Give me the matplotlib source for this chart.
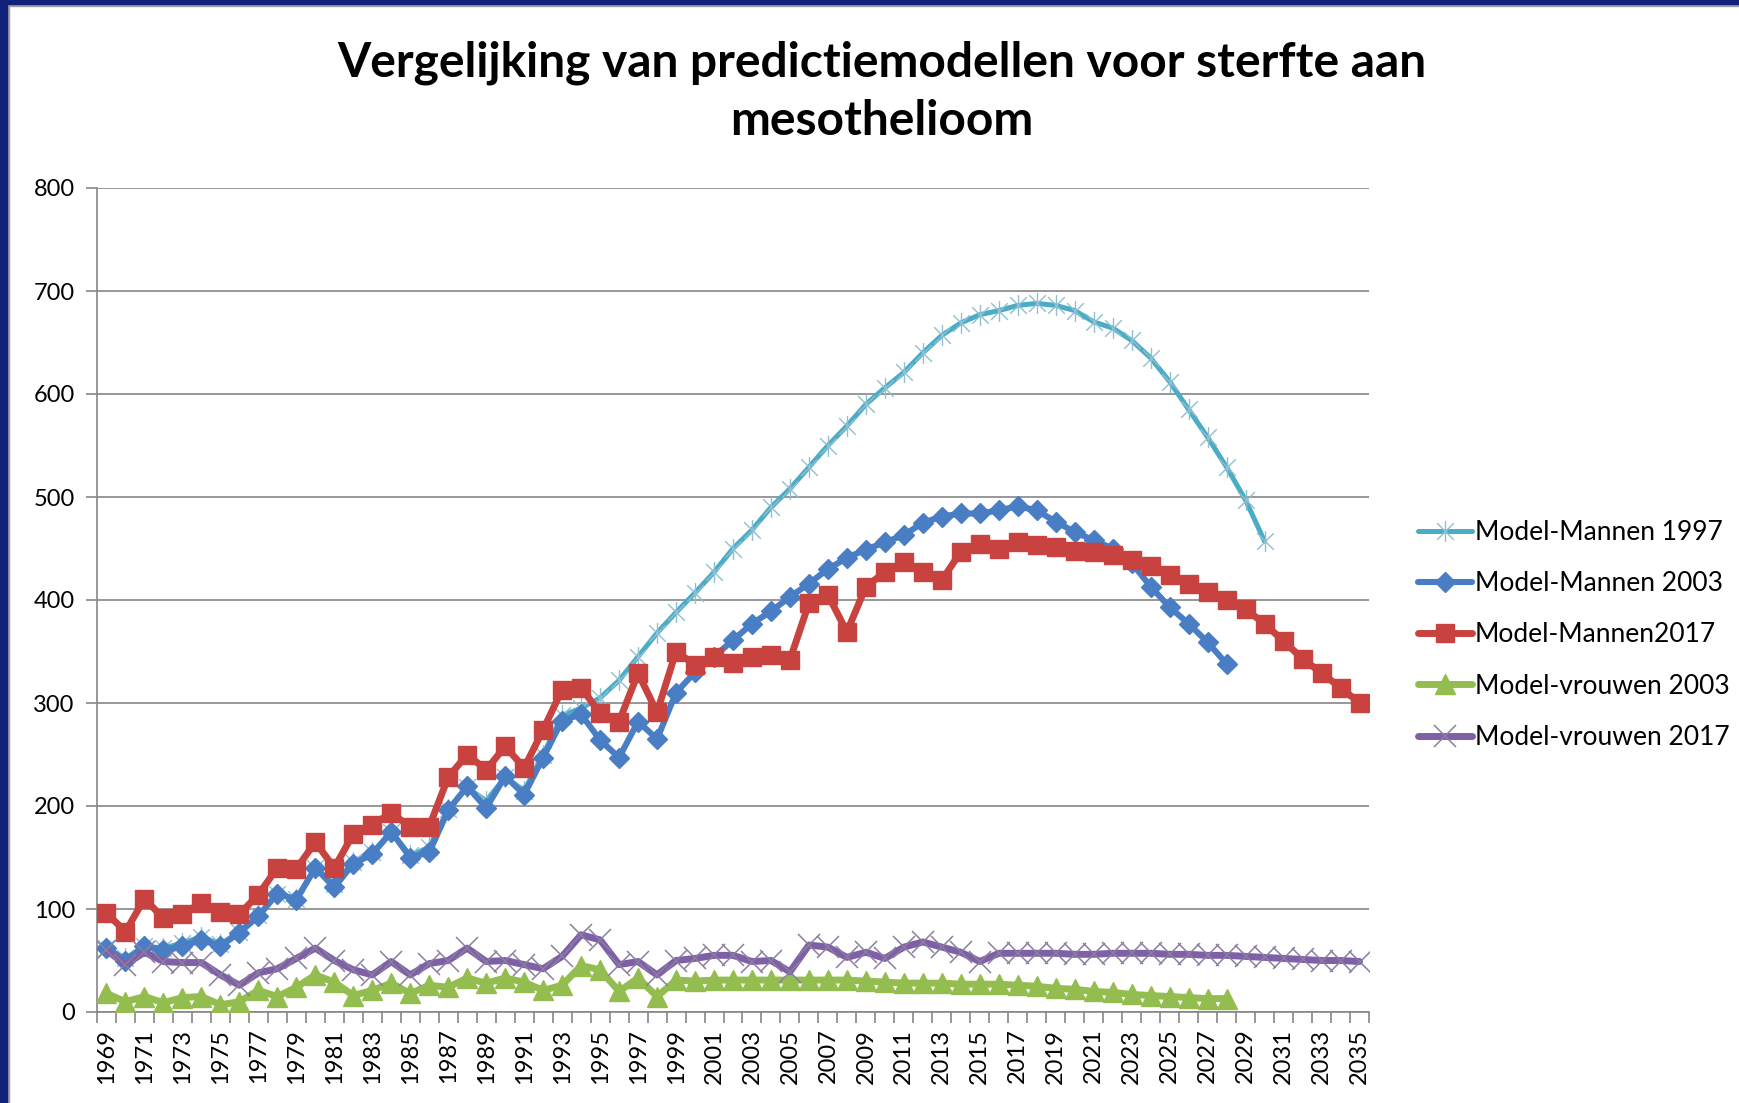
import matplotlib
matplotlib.use("Agg")
import matplotlib.pyplot as plt
from matplotlib.path import Path
from matplotlib.patches import Rectangle
import numpy as np

plt.rcParams['font.family'] = ['Lato', 'DejaVu Sans']

title = "Vergelijking van predictiemodellen voor sterfte aan\nmesothelioom"
years = list(range(1969, 2036))

mannen_1997 = [62, 52, 64, 62, 67, 73, 66, 78, 94, 115, 110, 140, 124, 146, 155, 175, 152, 160,
               197, 218, 205, 228, 215, 250, 288, 295, 305, 322, 345, 368, 388, 407, 427, 450,
               468, 490, 508, 529, 550, 569, 590, 606, 621, 640, 657, 669, 677, 681, 686, 688,
               686, 681, 670, 664, 652, 635, 612, 585, 558, 529, 497, 457]
mannen_2003 = [62, 50, 64, 60, 64, 70, 64, 77, 93, 115, 109, 140, 121, 144, 153, 175, 150, 155,
               196, 219, 198, 229, 211, 247, 283, 289, 264, 247, 282, 265, 310, 330, 345, 361,
               377, 389, 403, 416, 430, 441, 449, 456, 463, 475, 481, 484, 484, 487, 491, 487,
               476, 466, 458, 450, 436, 413, 393, 377, 359, 338]
mannen_2017 = [96, 78, 110, 91, 95, 106, 97, 95, 114, 140, 139, 165, 140, 173, 182, 193, 180, 180,
               228, 250, 235, 258, 237, 274, 313, 315, 290, 282, 329, 291, 350, 337, 345, 339,
               345, 347, 342, 397, 405, 369, 413, 427, 437, 427, 419, 447, 454, 450, 456, 453,
               451, 448, 447, 444, 439, 433, 424, 416, 408, 400, 391, 377, 360, 343, 329, 315, 300]
vrouwen_2003 = [18, 10, 15, 9, 14, 15, 7, 10, 21, 15, 24, 36, 29, 16, 21, 28, 18, 26, 24, 33,
                28, 33, 29, 21, 26, 45, 41, 20, 33, 15, 31, 30, 31, 31, 31, 31, 31, 31, 31, 31,
                30, 29, 28, 28, 28, 27, 27, 27, 26, 25, 23, 22, 20, 19, 17, 16, 15, 14, 13, 13]
vrouwen_2017 = [60, 46, 58, 49, 48, 48, 36, 26, 38, 42, 52, 62, 50, 41, 36, 49, 36, 47, 50, 62,
                49, 50, 46, 42, 54, 75, 70, 46, 49, 36, 50, 52, 55, 55, 49, 50, 39, 65, 63, 53,
                58, 52, 63, 68, 63, 58, 49, 57, 57, 57, 57, 56, 56, 57, 57, 57, 56, 56, 55, 55,
                54, 53, 52, 51, 50, 50, 49]

labels = ["Model-Mannen 1997", "Model-Mannen 2003", "Model-Mannen2017",
          "Model-vrouwen 2003", "Model-vrouwen 2017"]

W, H = 1739, 1103
fig = plt.figure(figsize=(W / 100, H / 100), dpi=100)
fig.patch.set_facecolor('white')

ax = fig.add_axes([97 / W, 1 - 1012 / H, (1369 - 97) / W, (1012 - 188) / H])

star = Path([(-1, -1), (1, 1), (-1, 1), (1, -1), (0, -1.25), (0, 1.25)],
            [Path.MOVETO, Path.LINETO, Path.MOVETO, Path.LINETO, Path.MOVETO, Path.LINETO])

x = np.arange(len(years))

def xs(vals):
    return x[:len(vals)]

common = dict(solid_joinstyle='round', solid_capstyle='round')
ax.plot(xs(mannen_1997), mannen_1997, color='#4BACC6', lw=3.6, marker=star, ms=15,
        mec='#8FBFD0', mew=1.0, mfc='none', label=labels[0], zorder=3, **common)
ax.plot(xs(mannen_2003), mannen_2003, color='#4A7EC4', lw=4.4, marker='D', ms=10.5,
        mec='#4A7EC4', mfc='#4A7EC4', label=labels[1], zorder=4, **common)
ax.plot(xs(mannen_2017), mannen_2017, color='#C8433F', lw=5, marker='s', ms=13,
        mec='#C8433F', mfc='#C8433F', label=labels[2], zorder=5, **common)
ax.plot(xs(vrouwen_2003), vrouwen_2003, color='#94BD4F', lw=5, marker='^', ms=14,
        mec='#94BD4F', mfc='#94BD4F', label=labels[3], zorder=6, **common)
ax.plot(xs(vrouwen_2017), vrouwen_2017, color='#7F5FA6', lw=5, marker='x', ms=16,
        mec='#8A7F9E', mew=1.1, label=labels[4], zorder=7, **common)

ax.set_xlim(-0.5, len(years) - 0.5)
ax.set_ylim(0, 800)
ax.set_yticks(range(0, 801, 100))
ax.yaxis.grid(True, color='#868686', lw=1.2)
ax.set_axisbelow(True)

ax.set_xticks(np.arange(-0.5, len(years), 1.0))
ax.set_xticklabels([])
ax.tick_params(axis='x', which='major', length=8, width=1.2, color='#868686', direction='out')
ax.set_xticks(x[::2], minor=True)
ax.set_xticklabels([str(y) for y in years[::2]], minor=True, rotation=90, fontsize=17)
ax.tick_params(axis='x', which='minor', length=0, pad=12)
ax.tick_params(axis='y', length=8, width=1.2, color='#868686', labelsize=17, pad=8)

for s in ['top', 'right']:
    ax.spines[s].set_visible(False)
for s in ['left', 'bottom']:
    ax.spines[s].set_color('#868686')
    ax.spines[s].set_linewidth(1.2)

fig.text(0.507, 1 - 92 / H, title, ha='center', va='center', fontsize=34.5,
         fontweight='bold', linespacing=1.38)

leg = fig.legend(loc='center left', bbox_to_anchor=(1418 / W, 1 - 635 / H), frameon=False,
                 fontsize=19, handlelength=2.05, handletextpad=0.1, labelspacing=0.99,
                 borderpad=0, borderaxespad=0, numpoints=1)

# navy frame
fig.patches.append(Rectangle((0, 1 - 4 / H), 1, 4 / H, transform=fig.transFigure,
                             color='#10217A', zorder=10))
fig.patches.append(Rectangle((0, 1 - 6 / H), 1, 2 / H, transform=fig.transFigure,
                             color='#A0A0A0', zorder=9))
fig.patches.append(Rectangle((0, 0), 7 / W, 1, transform=fig.transFigure,
                             color='#10217A', zorder=10))
fig.patches.append(Rectangle((7 / W, 0), 2 / W, 1, transform=fig.transFigure,
                             color='#A0A0A0', zorder=9))

fig.savefig('out.png', dpi=100)
